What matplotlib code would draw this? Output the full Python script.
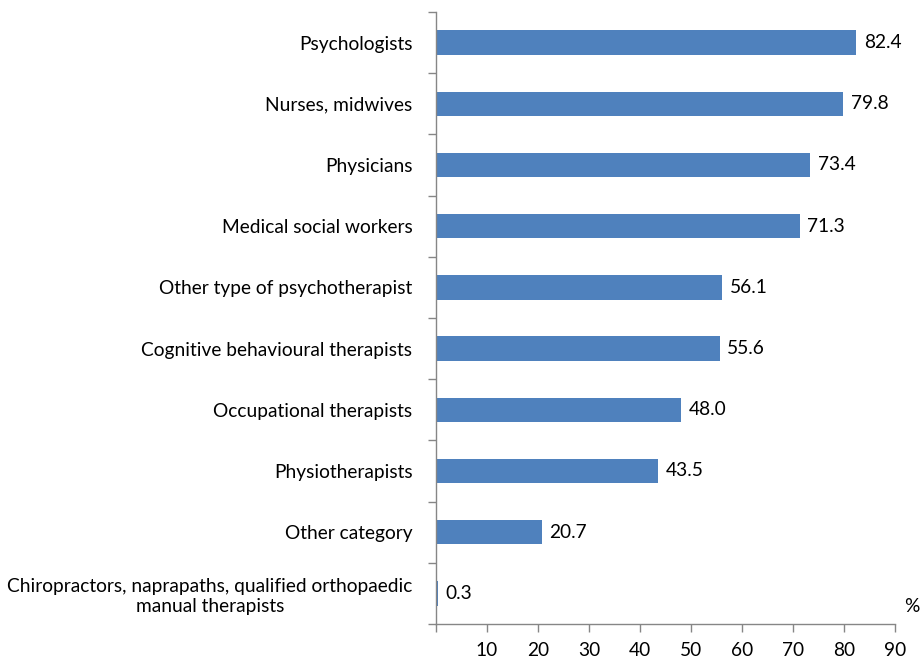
import numpy as np
import matplotlib
matplotlib.use("Agg")
import matplotlib.pyplot as plt
from matplotlib.ticker import FixedLocator, NullFormatter

# ─── data ────────────────────────────────────────────────────────────────────

categories = [
    "Psychologists",
    "Nurses, midwives",
    "Physicians",
    "Medical social workers",
    "Other type of psychotherapist",
    "Cognitive behavioural therapists",
    "Occupational therapists",
    "Physiotherapists",
    "Other category",
    "Chiropractors, naprapaths, qualified orthopaedic\nmanual therapists",
]
values = [82.4, 79.8, 73.4, 71.3, 56.1, 55.6, 48.0, 43.5, 20.7, 0.3]
x_ticks = [10, 20, 30, 40, 50, 60, 70, 80, 90]

# ─── style ───────────────────────────────────────────────────────────────────

C_BAR = "#4F81BD"
C_AX = "#868686"
plt.rcParams["font.family"] = ["Lato", "DejaVu Sans"]
FS = 13.8

fig = plt.figure(figsize=(9.22, 6.62), dpi=100)
ax = fig.add_axes([436 / 922, 38 / 662, (895 - 436) / 922, (624 - 12) / 662])

n = len(categories)
y = np.arange(n)[::-1]
ax.barh(y, values, height=0.4, color=C_BAR)

for yi, v in zip(y, values):
    ax.text(v + 1.5, yi, f"{v:.1f}", va="center", ha="left", fontsize=FS)

ax.set_xlim(0, 90)
ax.set_ylim(-0.5, n - 0.5)

# x axis: ticks everywhere, no label at 0
ax.xaxis.set_major_locator(FixedLocator([0] + x_ticks))
ax.set_xticklabels([""] + [str(t) for t in x_ticks], fontsize=FS)
ax.tick_params(axis="x", direction="out", length=6, width=1, color=C_AX, pad=7)

# y axis: ticks at category boundaries, labels at centres
ax.yaxis.set_major_locator(FixedLocator(np.arange(-0.5, n, 1.0)))
ax.yaxis.set_major_formatter(NullFormatter())
ax.yaxis.set_minor_locator(FixedLocator(y))
ax.set_yticklabels(categories, minor=True, fontsize=FS, multialignment="center")
ax.tick_params(axis="y", which="major", direction="out", length=6, width=1, color=C_AX)
ax.tick_params(axis="y", which="minor", length=0, pad=17)

for s in ("top", "right"):
    ax.spines[s].set_visible(False)
for s in ("left", "bottom"):
    ax.spines[s].set_color(C_AX)
    ax.spines[s].set_linewidth(1)

fig.text(912 / 922, 1 - 606 / 662, "%", ha="center", va="center", fontsize=FS)

fig.savefig("out.png", dpi=100)
